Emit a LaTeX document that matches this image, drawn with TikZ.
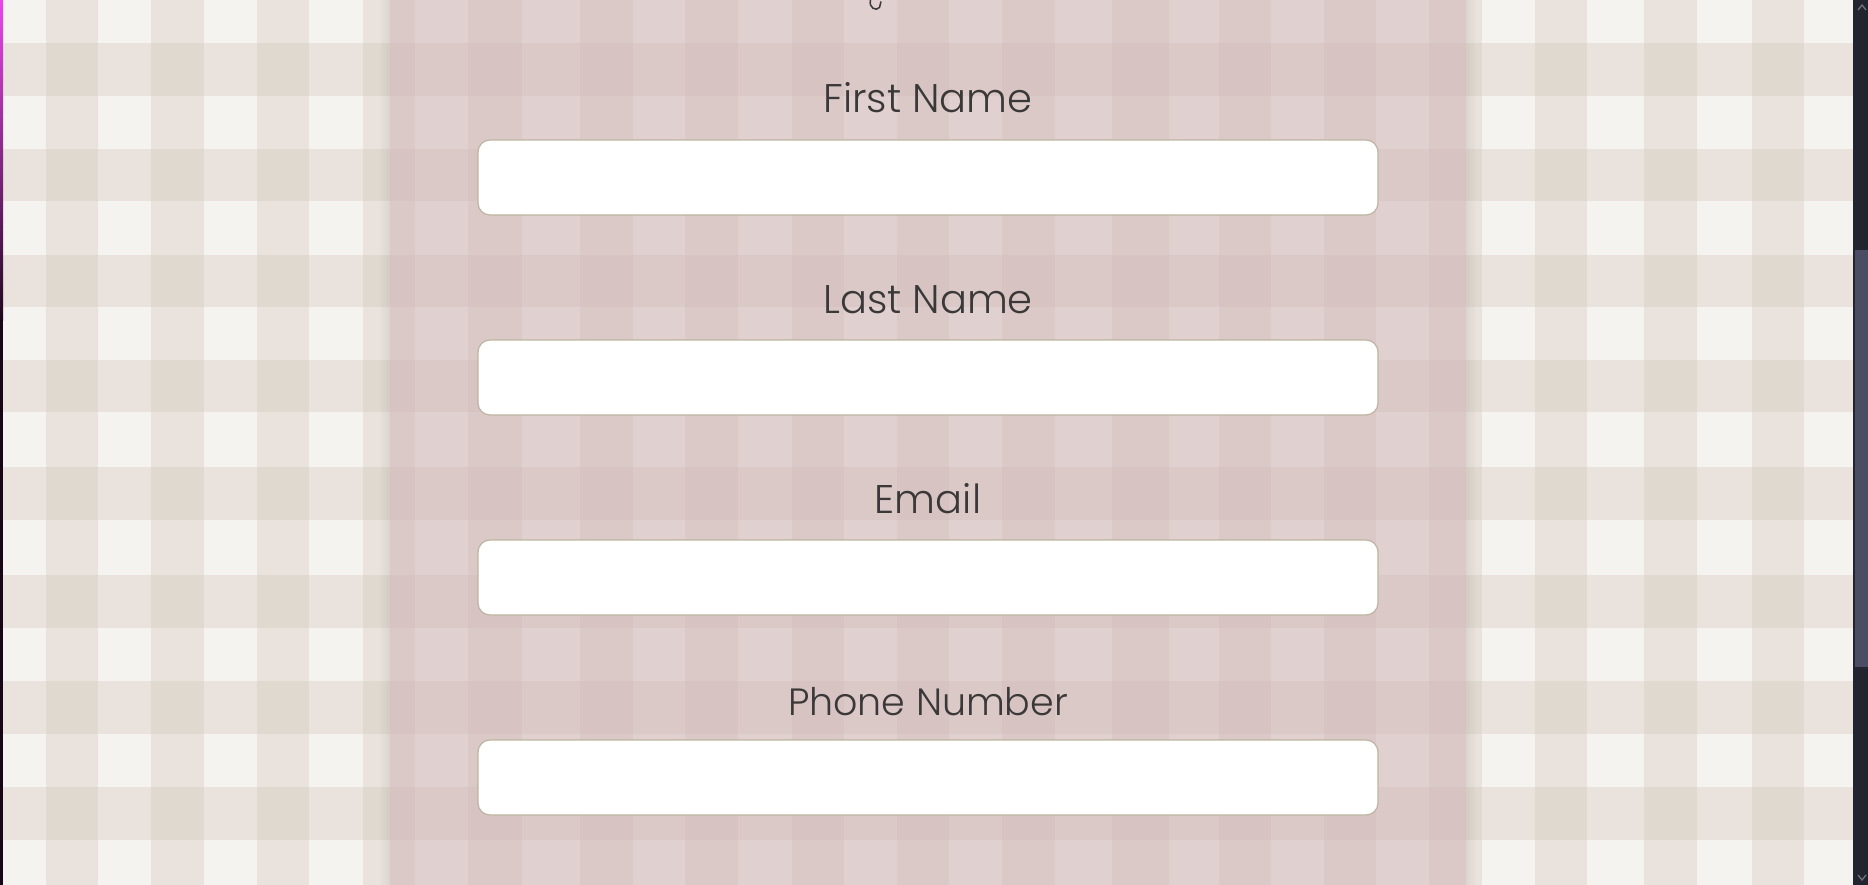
\documentclass[tikz,border=0pt]{standalone}
\usepackage{fontspec}
\newfontfamily\hand{Poppins Light}
\definecolor{bgW}{HTML}{F5F3EF}
\definecolor{bgM}{HTML}{EAE3DD}
\definecolor{bgD}{HTML}{E0D9D0}
\definecolor{pkW}{HTML}{E0D0CF}
\definecolor{pkM}{HTML}{DBC9C7}
\definecolor{pkD}{HTML}{D7C4C2}
\definecolor{boxline}{HTML}{BDB3A0}
\definecolor{txt}{HTML}{3A3838}
\definecolor{track}{HTML}{22252F}
\definecolor{thumb}{HTML}{4A4D63}
\definecolor{arrowc}{HTML}{6E717F}
\definecolor{edgeTop}{HTML}{EB46EB}
\definecolor{edgeMid}{HTML}{1E081E}
\definecolor{edgeBot}{HTML}{160616}
\tikzset{
  fieldbox/.style={draw=boxline, line width=1.2pt, fill=white, rounded corners=12pt,
    minimum width=900pt, minimum height=75pt, inner sep=0pt},
  label/.style={anchor=base, inner sep=0pt, text=txt, font=\hand\fontsize{40}{44}\selectfont},
}
\begin{document}
\begin{tikzpicture}[x=1pt,y=-1pt]
\useasboundingbox (0,0) rectangle (1868,885);
% background plaid
\fill[bgW] (0,0) rectangle (1868,885);
\def\rows{43/96,149/201,255/307,360/412,467/520,575/628,681/734,787/840}
\def\bgcols{46/98,151/204,257/309,363/390,1466/1482,1535/1587,1644/1697,1752/1804}
\foreach \a/\b in \bgcols {\fill[bgM] (\a,0) rectangle (\b,885);}
\foreach \a/\b in \rows {\fill[bgM] (0,\a) rectangle (1868,\b);}
\foreach \a/\b in \bgcols {\foreach \c/\d in \rows {\fill[bgD] (\a,\c) rectangle (\b,\d);}}
% panel
\fill[pkW] (390,0) rectangle (1466,885);
\def\pkcols{390/415,468/522,580/633,685/738,792/844,897/949,1002/1055,1112/1169,1219/1271,1324/1376,1429/1466}
\foreach \a/\b in \pkcols {\fill[pkM] (\a,0) rectangle (\b,885);}
\foreach \a/\b in \rows {\fill[pkM] (390,\a) rectangle (1466,\b);}
\foreach \a/\b in \pkcols {\foreach \c/\d in \rows {\fill[pkD] (\a,\c) rectangle (\b,\d);}}
% panel shadows
\foreach \i in {0,...,4} {
  \fill[black, opacity={0.011*(5-\i)}] ({1466+2*\i},0) rectangle ({1468+2*\i},885);
  \fill[black, opacity={0.011*(5-\i)}] ({388-2*\i},0) rectangle ({390-2*\i},885);
}
% left browser edge
\shade[top color=edgeTop, bottom color=edgeMid] (0,0) rectangle (3,320);
\fill[edgeBot] (0,320) rectangle (3,885);
% scrollbar
\fill[track] (1853,0) rectangle (1868,885);
\fill[thumb] (1855,250) rectangle (1868,667);
\draw[arrowc, line width=1.3pt] (1858,10) -- (1862,5) -- (1866,10);
\draw[arrowc, line width=1.3pt] (1858,875) -- (1862,880) -- (1866,875);
% heading descender (cut off at the top)
\draw[txt, line width=1.5pt] (870.5,0) .. controls (868.5,8) and (876,11.5) .. (879.5,7.5) -- (881,1.5);
% fields
\node[fieldbox] (f1) at (928,177.5) {};
\node[fieldbox] (f2) at (928,377.5) {};
\node[fieldbox] (f3) at (928,577.5) {};
\node[fieldbox] (f4) at (928,777.5) {};
% labels
\node[label] (l1) at (928,113) {First Name};
\node[label] (l2) at (928,313) {Last Name};
\node[label] (l3) at (928,513) {Email};
\node[label, font=\hand\fontsize{38}{42}\selectfont] (l4) at (928,715) {Phone Number};
\end{tikzpicture}
\end{document}
